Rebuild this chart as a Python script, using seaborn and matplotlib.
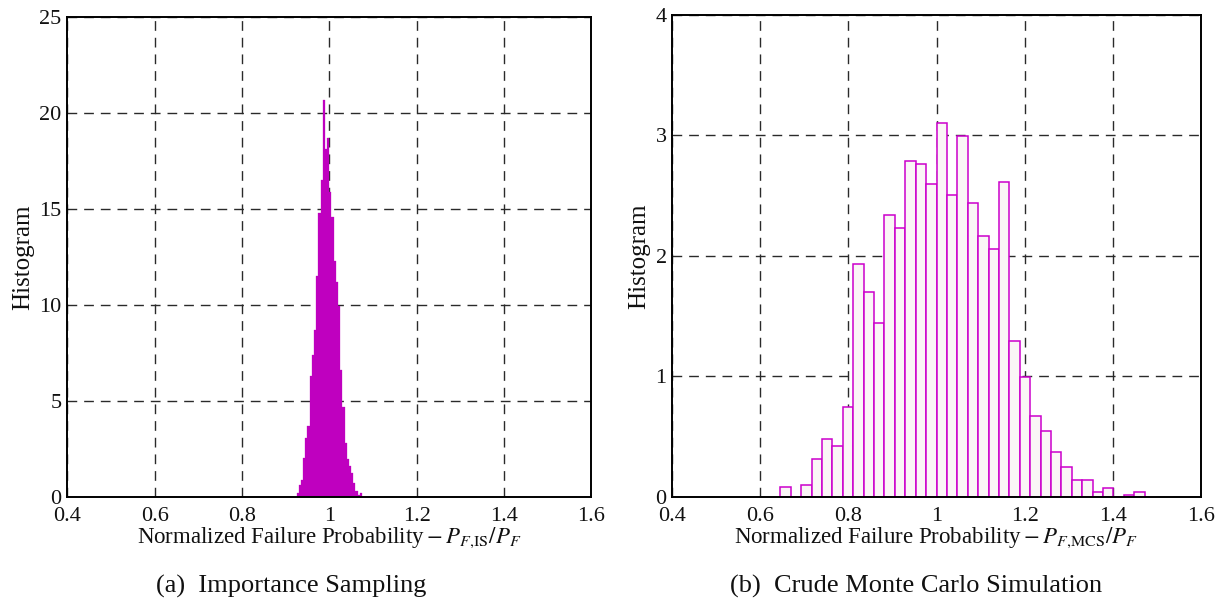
import numpy as np
import pandas as pd
import matplotlib
matplotlib.use("Agg")
import matplotlib.pyplot as plt
import seaborn as sns

# Importance sampling estimates: histogram heights on uniform bins
is_bin_start = 0.925
is_bin_width = 0.005
is_density = [0.2, 0.64, 0.9, 2.03, 3.08, 3.7, 6.3, 7.4, 8.7, 11.5,
              14.8, 16.5, 20.7, 18.1, 18.7, 15.9, 14.6, 12.3, 11.2, 9.95,
              6.6, 4.7, 2.8, 1.98, 1.6, 1.25, 0.73, 0.3, 0.12, 0.2]

# Crude Monte Carlo estimates: histogram heights on uniform bins
mcs_bin_start = 0.6454
mcs_bin_width = 0.02364
mcs_density = [0.083, 0.0, 0.103, 0.319, 0.485, 0.421, 0.743, 1.935, 1.70, 1.447,
               2.34, 2.235, 2.786, 2.764, 2.595, 3.10, 2.505, 2.995, 2.438, 2.164,
               2.059, 2.61, 1.295, 0.996, 0.675, 0.548, 0.376, 0.249, 0.144, 0.144,
               0.039, 0.078, 0.0, 0.017, 0.039]

x_ticks = [0.4, 0.6, 0.8, 1.0, 1.2, 1.4, 1.6]
x_tick_labels = ["0.4", "0.6", "0.8", "1", "1.2", "1.4", "1.6"]
is_y_ticks = [0, 5, 10, 15, 20, 25]
mcs_y_ticks = [0, 1, 2, 3, 4]


def hist_frame(start, width, heights):
    n = len(heights)
    lo, hi = start, start + width * n
    centers = start + width * (np.arange(n) + 0.5)
    return pd.DataFrame({"x": centers, "h": heights}), n, (lo, hi)


sns.set_theme(style="white")
plt.rcParams["font.family"] = ["Liberation Serif", "DejaVu Serif"]
plt.rcParams["mathtext.fontset"] = "stix"

fig = plt.figure(figsize=(12.25, 6.14), dpi=100)
ax1 = fig.add_axes([0.0549, 0.1906, 0.4278, 0.7818])
ax2 = fig.add_axes([0.5488, 0.1906, 0.4314, 0.7850])

grid_kw = dict(color="#2a2a2a", linewidth=1.0, linestyle=(0, (7, 5)))

df_is, n_is, rng_is = hist_frame(is_bin_start, is_bin_width, is_density)
sns.histplot(data=df_is, x="x", weights="h", bins=n_is, binrange=rng_is,
             stat="count", ax=ax1, color="#bf00bf", edgecolor="#bf00bf",
             linewidth=0.2, alpha=1.0, zorder=2)

df_mcs, n_mcs, rng_mcs = hist_frame(mcs_bin_start, mcs_bin_width, mcs_density)
sns.histplot(data=df_mcs, x="x", weights="h", bins=n_mcs, binrange=rng_mcs,
             stat="count", ax=ax2, facecolor="#faf6f6", edgecolor="#cc00cc",
             linewidth=1.1, alpha=1.0, zorder=2)

labels = [r"Normalized Failure Probability$\:{-}\:P_{F{,}\mathrm{IS}}/P_F$",
          r"Normalized Failure Probability$\:{-}\:P_{F{,}\mathrm{MCS}}/P_F$"]

for ax, yt, lab in [(ax1, is_y_ticks, labels[0]), (ax2, mcs_y_ticks, labels[1])]:
    ax.set_xlim(0.4, 1.6)
    ax.set_ylim(yt[0], yt[-1])
    ax.set_xticks(x_ticks)
    ax.set_xticklabels(x_tick_labels)
    ax.set_yticks(yt)
    ax.set_yticklabels([str(v) for v in yt])
    ax.tick_params(axis="both", length=0, labelsize=16, colors="#111111")
    ax.tick_params(axis="x", pad=7)
    ax.tick_params(axis="y", pad=4)
    ax.set_axisbelow(True)
    ax.grid(True, **grid_kw)
    for s in ax.spines.values():
        s.set_visible(True)
        s.set_color("black")
        s.set_linewidth(1.4)
    ax.set_xlabel(lab, fontsize=16.5, labelpad=0, color="#111111")
    ax.set_ylabel("Histogram", fontsize=18, labelpad=4, color="#111111")

fig.text(0.2378, 0.045, "(a)  Importance Sampling", ha="center", va="center",
         fontsize=19, color="#111111")
fig.text(0.7478, 0.045, "(b)  Crude Monte Carlo Simulation", ha="center", va="center",
         fontsize=19, color="#111111")

fig.savefig("out.png", dpi=100)
